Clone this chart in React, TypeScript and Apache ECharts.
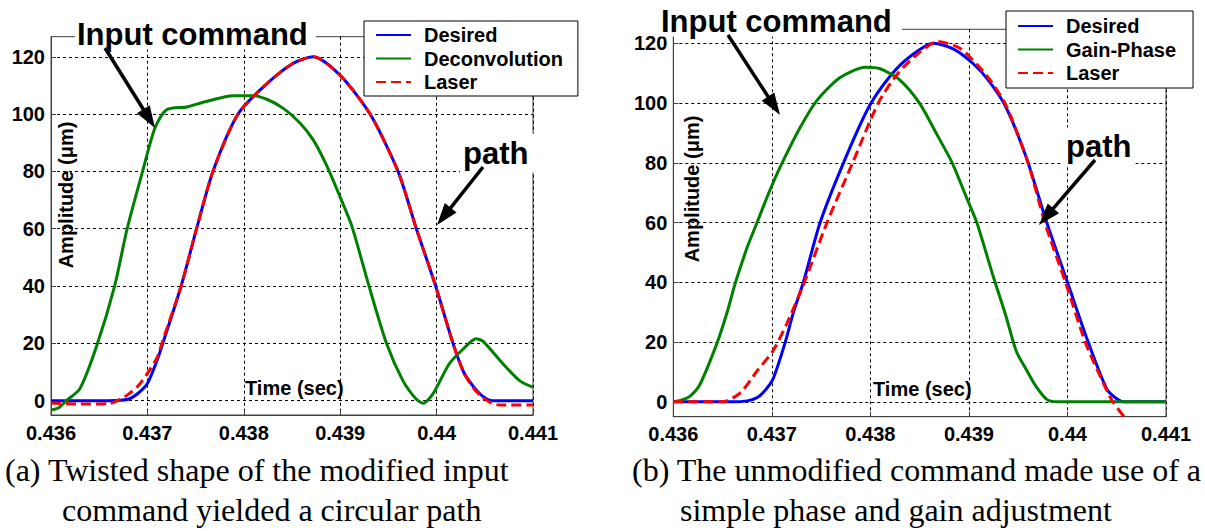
import React, { useEffect, useRef } from "react";
import * as echarts from "echarts";

// ---------- data ----------
const xTicks = [0.436, 0.437, 0.438, 0.439, 0.44, 0.441];
const yTicks = [0, 20, 40, 60, 80, 100, 120];

const seriesNamesA = ["Desired", "Deconvolution", "Laser"];
const seriesNamesB = ["Desired", "Gain-Phase", "Laser"];

const leftDesired = [
  [0.436, 0], [0.4366, 0], [0.4368, 0.5], [0.4369, 2.5], [0.437, 6], [0.4371, 14],
  [0.43716, 20], [0.43735, 40], [0.43751, 60], [0.43768, 80], [0.43794, 100],
  [0.43822, 110], [0.4385, 117.5], [0.43872, 120], [0.439, 113.5], [0.43931, 100],
  [0.4396, 80], [0.43979, 60], [0.43999, 40], [0.44017, 20], [0.44028, 10],
  [0.44038, 5], [0.44048, 1.5], [0.44058, 0], [0.441, 0],
];
const leftDecon = [
  [0.436, -3.3], [0.43608, -2.5], [0.43616, 0], [0.4363, 4.2], [0.43647, 18.7],
  [0.43666, 40], [0.43679, 60], [0.43695, 80], [0.43708, 95.3], [0.4372, 101.5],
  [0.43741, 102.5], [0.43761, 104.4], [0.43789, 106.4], [0.4381, 106.4],
  [0.43825, 105], [0.43841, 102], [0.43858, 97], [0.43872, 91], [0.43886, 82],
  [0.439, 71], [0.43912, 61], [0.43929, 41], [0.43948, 20], [0.43965, 7],
  [0.43979, 0.5], [0.43986, -0.9], [0.43996, 2.3], [0.44013, 12.8], [0.44026, 17.5],
  [0.44041, 21.6], [0.44048, 20.8], [0.44069, 12.8], [0.44086, 7], [0.441, 4.7],
];
const leftLaser = [
  [0.436, -0.8], [0.4363, -1.2], [0.4366, -1], [0.43672, 0.5], [0.4368, 2.2],
  [0.4369, 5], [0.437, 9.5], [0.4371, 15], [0.43716, 21], [0.43735, 40],
  [0.43751, 60], [0.43768, 80], [0.43794, 100], [0.43822, 110], [0.4385, 117.5],
  [0.43872, 120], [0.439, 113.5], [0.43931, 100], [0.4396, 80], [0.43979, 60],
  [0.43999, 40], [0.44017, 20], [0.44028, 10], [0.44038, 4.5], [0.44048, 1],
  [0.44058, -1], [0.44065, -1.5], [0.441, -1.5],
];

const rightDesired = [
  [0.436, 0], [0.4366, 0], [0.43675, 0.3], [0.43684, 1.2], [0.43691, 3], [0.43701, 7.5],
  [0.43713, 19.3], [0.43722, 30], [0.43732, 40], [0.43749, 60], [0.43774, 81],
  [0.43799, 99], [0.4382, 109], [0.4384, 115.5], [0.43864, 120], [0.43885, 118],
  [0.43905, 113], [0.4392, 107.5], [0.43937, 99], [0.43958, 82], [0.43979, 60],
  [0.44, 40], [0.44021, 20], [0.4404, 4.2], [0.4405, 1], [0.44057, 0], [0.441, 0],
];
const rightGainPhase = [
  [0.436, 0], [0.43608, 0.5], [0.43617, 1.9], [0.43627, 5.8], [0.43644, 19.3],
  [0.43654, 29.3], [0.43663, 39.8], [0.43675, 51.7], [0.43685, 60], [0.43697, 70],
  [0.43709, 79], [0.43729, 92], [0.43746, 101], [0.43769, 108.5], [0.43795, 112],
  [0.4381, 111.5], [0.4383, 107.7], [0.4385, 99.9], [0.43867, 89.8], [0.43883, 80],
  [0.43898, 68], [0.43908, 60], [0.43925, 41.6], [0.43937, 29.3], [0.43948, 17],
  [0.43959, 10.3], [0.43969, 4.7], [0.43979, 0.8], [0.43989, 0], [0.441, 0],
];
const rightLaser = [
  [0.436, 0], [0.4365, 0], [0.43668, 3], [0.43685, 10.3], [0.43701, 17], [0.43715, 26],
  [0.43733, 40], [0.43756, 60], [0.43782, 80], [0.43808, 100], [0.43828, 110],
  [0.4385, 117], [0.43868, 120.6], [0.4389, 118.5], [0.43908, 113], [0.43922, 107.5],
  [0.43938, 99], [0.4396, 80], [0.43977, 60], [0.43998, 40], [0.44018, 20],
  [0.44034, 8], [0.44046, 0], [0.4406, -6],
];

// ---------- styling ----------
const SANS = '"Liberation Sans", Arial, Helvetica, sans-serif';
const SERIF = '"Liberation Serif", "Times New Roman", serif';
const AXIS_COLOR = "#404040";
const BLUE = "#0000ff";
const GREEN = "#008000";
const RED = "#ff0000";

function makeXAxis(gridIndex: number, margin: number) {
  return {
    type: "value",
    gridIndex,
    min: 0.436,
    max: 0.441,
    interval: 0.001,
    axisLine: { show: true, onZero: false, lineStyle: { color: AXIS_COLOR, width: 1 } },
    axisTick: { show: true, inside: true, length: 5, customValues: xTicks, lineStyle: { color: AXIS_COLOR } },
    axisLabel: {
      customValues: xTicks,
      color: "#000",
      fontFamily: SANS,
      fontWeight: "bold",
      fontSize: 20,
      margin,
      formatter: (v: number) => String(+v.toFixed(3)),
    },
    splitLine: { show: true, lineStyle: { color: "#000", type: [3, 3], width: 1 } },
  };
}

function makeYAxis(gridIndex: number, max: number) {
  return {
    type: "value",
    gridIndex,
    min: -5,
    max,
    axisLine: { show: true, onZero: false, lineStyle: { color: AXIS_COLOR, width: 1 } },
    axisTick: { show: true, inside: true, length: 5, customValues: yTicks, lineStyle: { color: AXIS_COLOR } },
    axisLabel: {
      customValues: yTicks,
      color: "#000",
      fontFamily: SANS,
      fontWeight: "bold",
      fontSize: 20,
      margin: 6,
    },
    splitLine: { show: true, lineStyle: { color: "#000", type: [3, 3], width: 1 } },
  };
}

function makeLine(name: string, data: number[][], color: string, idx: number, dashed: boolean) {
  return {
    type: "line",
    name,
    data,
    xAxisIndex: idx,
    yAxisIndex: idx,
    symbol: "none",
    showSymbol: false,
    smooth: 0.25,
    clip: true,
    lineStyle: { color, width: 3, type: dashed ? [10, 5] : "solid" },
    itemStyle: { color },
    z: dashed ? 4 : 3,
  };
}

function arrow(x1: number, y1: number, x2: number, y2: number) {
  const dx = x2 - x1;
  const dy = y2 - y1;
  const len = Math.sqrt(dx * dx + dy * dy);
  const ux = dx / len;
  const uy = dy / len;
  const L = 22;
  const W = 7.5;
  const bx = x2 - ux * L;
  const by = y2 - uy * L;
  const px = -uy;
  const py = ux;
  return [
    {
      type: "line",
      z: 20,
      shape: { x1, y1, x2: bx + ux * 2, y2: by + uy * 2 },
      style: { stroke: "#000", lineWidth: 3.5 },
    },
    {
      type: "polygon",
      z: 20,
      shape: {
        points: [
          [x2, y2],
          [bx + px * W, by + py * W],
          [bx - px * W, by - py * W],
        ],
      },
      style: { fill: "#000" },
    },
  ];
}

function bigText(text: string, x: number, y: number, padding: number[]) {
  return {
    type: "text",
    z: 15,
    x,
    y,
    style: {
      text,
      font: `bold 31px ${SANS}`,
      fill: "#000",
      align: "left",
      verticalAlign: "middle",
      backgroundColor: "#fff",
      padding,
    },
  };
}

function smallText(text: string, x: number, y: number, rotation = 0, align = "left") {
  return {
    type: "text",
    z: 15,
    x,
    y,
    rotation,
    style: {
      text,
      font: `bold 20px ${SANS}`,
      fill: "#000",
      align,
      verticalAlign: "middle",
    },
  };
}

function caption(text: string, x: number, y: number) {
  return {
    type: "text",
    z: 15,
    x,
    y,
    style: {
      text,
      font: `32px ${SERIF}`,
      fill: "#000",
      align: "left",
      verticalAlign: "middle",
    },
  };
}

function makeLegend(data: string[], left: number, top: number, padding: number[]) {
  return {
    data,
    orient: "vertical",
    left,
    top,
    itemWidth: 35,
    itemHeight: 14,
    itemGap: 3.5,
    padding,
    backgroundColor: "#fff",
    borderColor: "#000",
    borderWidth: 1,
    borderRadius: 0,
    selectedMode: false,
    z: 12,
    itemStyle: { color: "rgba(0,0,0,0)", borderColor: "rgba(0,0,0,0)", borderWidth: 0, opacity: 0 },
    textStyle: {
      color: "#000",
      fontFamily: SANS,
      fontWeight: "bold",
      fontSize: 20,
      padding: [0, 0, 0, 8],
    },
  };
}

export default function App() {
  const ref = useRef<HTMLDivElement>(null);

  useEffect(() => {
    if (!ref.current) return;
    const chart = echarts.init(ref.current, null, { renderer: "svg" });

    const option = {
      animation: false,
      backgroundColor: "#fff",
      grid: [
        { left: 51, top: 36.7, width: 482, height: 378.3, show: true, borderColor: AXIS_COLOR, borderWidth: 1, backgroundColor: "transparent", containLabel: false },
        { left: 673.3, top: 29.3, width: 492.7, height: 387.4, show: true, borderColor: AXIS_COLOR, borderWidth: 1, backgroundColor: "transparent", containLabel: false },
      ],
      xAxis: [makeXAxis(0, 8), makeXAxis(1, 7)],
      yAxis: [makeYAxis(0, 127), makeYAxis(1, 124.7)],
      legend: [
        makeLegend(seriesNamesA, 364, 21, [4, 15, 4, 11]),
        makeLegend(seriesNamesB, 1006, 11, [5, 17, 5, 11]),
      ],
      series: [
        makeLine(seriesNamesA[0], leftDesired, BLUE, 0, false),
        makeLine(seriesNamesA[1], leftDecon, GREEN, 0, false),
        makeLine(seriesNamesA[2], leftLaser, RED, 0, true),
        makeLine(seriesNamesB[0], rightDesired, BLUE, 1, false),
        makeLine(seriesNamesB[1], rightGainPhase, GREEN, 1, false),
        makeLine(seriesNamesB[2], rightLaser, RED, 1, true),
      ],
      graphic: [
        bigText("Input command", 75, 34, [0, 8, 0, 2]),
        bigText("Input command", 659, 21, [0, 10, 0, 2]),
        bigText("path", 460, 153, [6, 7, 2, 3]),
        bigText("path", 1063, 146, [4, 4, 2, 3]),
        ...arrow(105, 48, 155, 128),
        ...arrow(728, 35, 780, 115),
        ...arrow(483, 167, 437, 225),
        ...arrow(1095, 160, 1039, 225),
        smallText("Amplitude (μm)", 66, 195, Math.PI / 2, "center"),
        smallText("Amplitude (μm)", 692, 189, Math.PI / 2, "center"),
        smallText("Time (sec)", 245, 388),
        smallText("Time (sec)", 873, 389),
        caption("(a) Twisted shape of the modified input", 5, 470),
        caption("command yielded a circular path", 62, 510),
        caption("(b) The unmodified command made use of a", 632, 470),
        caption("simple phase and gain adjustment", 680, 510),
      ],
    };

    chart.setOption(option as any);
    return () => chart.dispose();
  }, []);

  return (
    <div
      ref={ref}
      style={{ position: "absolute", left: 0, top: 0, width: 1205, height: 531, background: "#fff" }}
    />
  );
}
